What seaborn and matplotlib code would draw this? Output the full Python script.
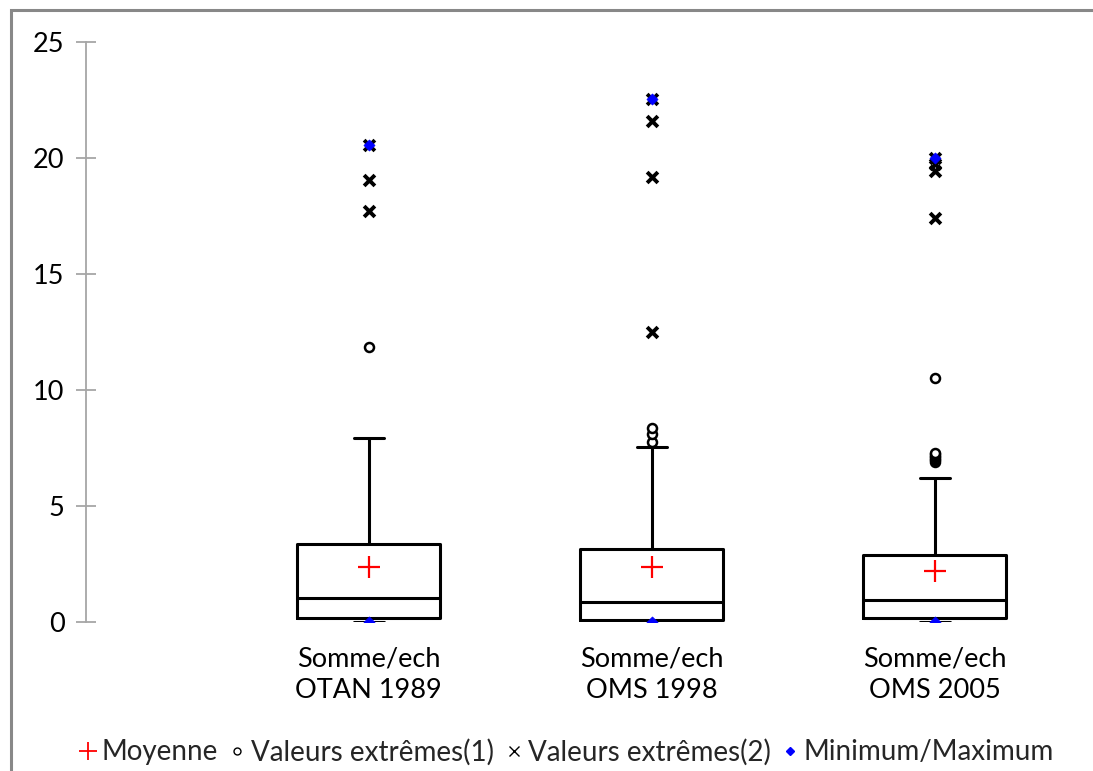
import numpy as np
import pandas as pd
import matplotlib
matplotlib.use("Agg")
import matplotlib.pyplot as plt
import seaborn as sns
from matplotlib.lines import Line2D
from matplotlib.patches import Rectangle

# ---------------- data ----------------
categories = ["Somme/ech\nOTAN 1989", "Somme/ech\nOMS 1998", "Somme/ech\nOMS 2005"]
q1 = [0.17, 0.09, 0.17]
medians = [1.03, 0.86, 0.95]
q3 = [3.36, 3.15, 2.89]
whisker_low = [0.0, 0.0, 0.0]
whisker_high = [7.93, 7.54, 6.20]
means = [2.37, 2.37, 2.20]
extremes1 = [[11.85], [7.75, 8.10, 8.35],
             [6.90, 6.97, 7.03, 7.10, 7.17, 7.23, 7.30, 10.5]]
extremes2 = [[17.70, 19.05, 20.56], [12.50, 19.18, 21.60, 22.55], [17.40, 19.45, 19.75, 20.00]]
minimums = [0.0, 0.0, 0.0]
maximums = [20.56, 22.55, 20.00]
yticks = [0, 5, 10, 15, 20, 25]
legend_labels = ["Moyenne", "Valeurs extrêmes(1)", "Valeurs extrêmes(2)", "Minimum/Maximum"]

# ---------------- style ----------------
sns.set_theme(style="white")
plt.rcParams["font.family"] = ["Lato", "DejaVu Sans"]

fig = plt.figure(figsize=(10.93, 7.71), dpi=100)
ax = fig.add_axes([86 / 1093, 1 - 622 / 771, (1076 - 86) / 1093, (622 - 42) / 771])

positions = np.arange(1, len(categories) + 1)

stats = []
for i in range(len(categories)):
    stats.append(dict(med=medians[i], q1=q1[i], q3=q3[i],
                      whislo=whisker_low[i], whishi=whisker_high[i],
                      mean=means[i], fliers=[], label=categories[i]))

lw = 2.2
ax.bxp(stats, positions=positions, widths=0.505, showfliers=False,
       showmeans=False, capwidths=0.106, patch_artist=False,
       boxprops=dict(color="black", linewidth=lw),
       medianprops=dict(color="black", linewidth=lw),
       whiskerprops=dict(color="black", linewidth=lw),
       capprops=dict(color="black", linewidth=lw))

# points via seaborn
def flat(groups):
    xs, ys = [], []
    for p, g in zip(positions, groups):
        for v in g:
            xs.append(p)
            ys.append(v)
    return pd.DataFrame({"x": xs, "y": ys})

d1 = flat(extremes1)
d2 = flat(extremes2)
dm = pd.DataFrame({"x": positions, "y": means})
dmin = pd.DataFrame({"x": np.concatenate([positions, positions]),
                     "y": minimums + maximums})

sns.scatterplot(data=d1, x="x", y="y", ax=ax, marker="o", s=42,
                facecolor="white", edgecolor="black", linewidth=1.8, zorder=4)
sns.scatterplot(data=d2, x="x", y="y", ax=ax, marker="x", s=60,
                color="black", linewidth=2.8, zorder=4)
sns.scatterplot(data=dmin, x="x", y="y", ax=ax, marker="D", s=32,
                color="blue", edgecolor="blue", linewidth=0.5, zorder=5)
sns.scatterplot(data=dm, x="x", y="y", ax=ax, marker="+", s=260,
                color="red", linewidth=1.6, zorder=5)

ax.set_xlim(0, 3.5)
ax.set_ylim(0, 25)
ax.set_yticks(yticks)
ax.set_xticks(positions)
ax.set_xticklabels(categories, fontsize=19.5, linespacing=1.3)
ax.set_xlabel("")
ax.set_ylabel("")
for s in ["top", "right", "bottom"]:
    ax.spines[s].set_visible(False)
ax.spines["left"].set_color("#A6A6A6")
ax.spines["left"].set_linewidth(1.3)
ax.tick_params(axis="y", direction="inout", length=15, width=1.3,
               color="#A6A6A6", labelsize=19.5, pad=8, left=True, labelcolor="black")
ax.tick_params(axis="x", length=0, pad=18, labelcolor="black")

# legend
handles = [
    Line2D([], [], marker="+", color="red", linestyle="None", markersize=13, markeredgewidth=1.3),
    Line2D([], [], marker="o", color="black", markerfacecolor="white", linestyle="None",
           markersize=5, markeredgewidth=1.0),
    Line2D([], [], marker="x", color="black", linestyle="None", markersize=7, markeredgewidth=1.0),
    Line2D([], [], marker="D", color="blue", linestyle="None", markersize=4),
]
fig.legend(handles, legend_labels, loc="center", bbox_to_anchor=(0.516, 1 - 752 / 771),
           ncol=4, frameon=False, fontsize=20, handletextpad=0.0, columnspacing=0.2,
           handlelength=1.0)

# outer frame
fig.add_artist(Rectangle((11 / 1093, -0.05), 1.2, 1 - 10 / 771 + 0.05,
                         transform=fig.transFigure, fill=False,
                         edgecolor="#888888", linewidth=2.2))

fig.savefig("out.png", dpi=100, facecolor="white")
